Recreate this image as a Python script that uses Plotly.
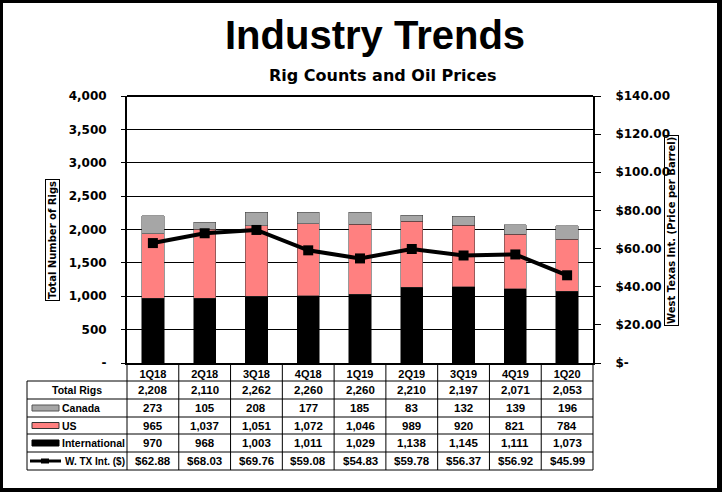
import plotly.graph_objects as go

# Datos (trimestres)
quarters = ["1Q18", "2Q18", "3Q18", "4Q18", "1Q19", "2Q19", "3Q19", "4Q19", "1Q20"]
canada = [273, 105, 208, 177, 185, 83, 132, 139, 196]
us = [965, 1037, 1051, 1072, 1046, 989, 920, 821, 784]
international = [970, 968, 1003, 1011, 1029, 1138, 1145, 1111, 1073]
total_rigs = [2208, 2110, 2262, 2260, 2260, 2210, 2197, 2071, 2053]
wti = [62.88, 68.03, 69.76, 59.08, 54.83, 59.78, 56.37, 56.92, 45.99]

rig_ticks = [0, 500, 1000, 1500, 2000, 2500, 3000, 3500, 4000]
rig_labels = ["-", "500", "1,000", "1,500", "2,000", "2,500", "3,000", "3,500", "4,000"]
price_ticks = [0, 20, 40, 60, 80, 100, 120, 140]
price_labels = ["$-", "$20.00", "$40.00", "$60.00", "$80.00", "$100.00", "$120.00", "$140.00"]

# Colores
C_CAN = "#A6A6A6"
C_US = "#FF8080"
C_INT = "#000000"

NARROW = "Liberation Sans Narrow, Arial Narrow, Liberation Sans, sans-serif"
VERD = "DejaVu Sans, Verdana, sans-serif"

# Geometria en pixeles
W, H = 722, 492
L, R, T, B = 127, 593, 96, 363
pw, ph = R - L, B - T


def px(x):
    return (x - L) / pw


def py(y):
    return (B - y) / ph


fig = go.Figure()

fig.add_trace(go.Bar(x=quarters, y=international, marker=dict(color=C_INT, line=dict(color="#000", width=0.5)),
                     width=0.43, name="International"))
fig.add_trace(go.Bar(x=quarters, y=us, marker=dict(color=C_US, line=dict(color="#333", width=0.5)),
                     width=0.43, name="US"))
fig.add_trace(go.Bar(x=quarters, y=canada, marker=dict(color=C_CAN, line=dict(color="#333", width=0.5)),
                     width=0.43, name="Canada"))
fig.add_trace(go.Scatter(x=quarters, y=wti, yaxis="y2", mode="lines+markers",
                         line=dict(color="#000", width=4),
                         marker=dict(symbol="square", size=10, color="#000"),
                         name="W. TX Int. ($)"))

shapes = []
annotations = []

# Marco exterior
for x0, y0, x1, y1 in [(0, 0, 3, H), (0, 0, W, 3), (717, 0, W, H), (0, 488, W, H)]:
    shapes.append(dict(type="rect", xref="paper", yref="paper",
                       x0=px(x0), x1=px(x1), y0=py(y1), y1=py(y0),
                       fillcolor="#000", line=dict(width=0)))

# Tabla
n = len(quarters)
row_edges = [381, 399, 417, 434, 452, 470]
tab_left = 27
for y in row_edges:
    shapes.append(dict(type="line", xref="paper", yref="paper", x0=px(tab_left), x1=1,
                       y0=py(y), y1=py(y), line=dict(color="#000", width=1)))
shapes.append(dict(type="line", xref="paper", yref="paper", x0=px(tab_left), x1=px(tab_left),
                   y0=py(row_edges[0]), y1=py(row_edges[-1]), line=dict(color="#000", width=1)))
for k in range(n + 1):
    xk = k / n
    shapes.append(dict(type="line", xref="paper", yref="paper", x0=xk, x1=xk,
                       y0=0, y1=py(row_edges[-1]), line=dict(color="#000", width=1)))

row_names = ["Total Rigs", "Canada", "US", "International", "W. TX Int. ($)"]
row_vals = [
    [f"{v:,}" for v in total_rigs],
    [f"{v:,}" for v in canada],
    [f"{v:,}" for v in us],
    [f"{v:,}" for v in international],
    [f"${v:.2f}" for v in wti],
]
cell_font = dict(family=NARROW, size=11.5, color="#000", weight="bold")
label_font = dict(family=NARROW, size=10.5, color="#000", weight="bold")

for r, (name, vals) in enumerate(zip(row_names, row_vals)):
    yc = (row_edges[r] + row_edges[r + 1]) / 2
    for i, v in enumerate(vals):
        annotations.append(dict(x=(i + 0.5) / n, y=py(yc), xref="paper", yref="paper", text=v,
                                showarrow=False, font=cell_font, xanchor="center", yanchor="middle"))
    if r == 0:
        annotations.append(dict(x=px(77), y=py(yc), xref="paper", yref="paper", text=name,
                                showarrow=False, font=label_font, xanchor="center", yanchor="middle"))
    elif r < 4:
        key_col = [C_CAN, C_US, C_INT][r - 1]
        key_line = ["#555", "#333", "#000"][r - 1]
        shapes.append(dict(type="rect", xref="paper", yref="paper", x0=px(32), x1=px(59),
                           y0=py(yc + 3), y1=py(yc - 3), fillcolor=key_col,
                           line=dict(color=key_line, width=1)))
        annotations.append(dict(x=px(60), y=py(yc), xref="paper", yref="paper", text=name,
                                showarrow=False, font=label_font, xanchor="left", yanchor="middle"))
    else:
        shapes.append(dict(type="line", xref="paper", yref="paper", x0=px(30), x1=px(61),
                           y0=py(yc), y1=py(yc), line=dict(color="#000", width=3)))
        shapes.append(dict(type="rect", xref="paper", yref="paper", x0=px(41), x1=px(49),
                           y0=py(yc + 2.5), y1=py(yc - 2.5), fillcolor="#000", line=dict(width=0)))
        annotations.append(dict(x=px(63), y=py(yc), xref="paper", yref="paper", text=name,
                                showarrow=False, font=dict(label_font, size=10),
                                xanchor="left", yanchor="middle"))

# Titulos
annotations.append(dict(x=px(375), y=py(35), xref="paper", yref="paper", text="Industry Trends",
                        showarrow=False, xanchor="center", yanchor="middle",
                        font=dict(family="Impact, " + NARROW, size=40, color="#000", weight="bold")))
annotations.append(dict(x=px(382), y=py(75), xref="paper", yref="paper", text="Rig Counts and Oil Prices",
                        showarrow=False, xanchor="center", yanchor="middle",
                        font=dict(family=VERD, size=16, color="#000", weight="bold")))
annotations.append(dict(x=px(52), y=py(240), xref="paper", yref="paper", text="Total Number of Rigs",
                        showarrow=False, textangle=-90, xanchor="center", yanchor="middle",
                        bordercolor="#000", borderwidth=1, borderpad=1,
                        font=dict(family=VERD, size=10, color="#000", weight="bold")))
annotations.append(dict(x=px(671), y=py(231), xref="paper", yref="paper",
                        text="West Texas Int. (Price per Barrel)",
                        showarrow=False, textangle=-90, xanchor="center", yanchor="middle",
                        bordercolor="#000", borderwidth=1, borderpad=1,
                        font=dict(family=VERD, size=10, color="#000", weight="bold")))

tick_font = dict(family=VERD, size=12, color="#000", weight="bold")

fig.update_layout(
    width=W, height=H,
    margin=dict(l=L, r=W - R, t=T, b=H - B, pad=0),
    paper_bgcolor="#fff", plot_bgcolor="#fff",
    barmode="stack", bargap=0.57, showlegend=False,
    xaxis=dict(showline=True, linecolor="#000", linewidth=2, mirror=False,
               ticks="", showgrid=False, tickfont=dict(family=NARROW, size=11, color="#000", weight="bold"),
               ticklabelstandoff=0, range=[-0.5, n - 0.5]),
    yaxis=dict(range=[0, 4000], tickvals=rig_ticks, ticktext=rig_labels,
               showline=True, linecolor="#000", linewidth=2, ticks="outside", ticklen=4,
               tickcolor="#000", showgrid=True, gridcolor="#000", gridwidth=1,
               tickfont=tick_font, ticklabelstandoff=12, zeroline=False),
    yaxis2=dict(range=[0, 140], tickvals=price_ticks, ticktext=price_labels, overlaying="y",
                side="right", showline=True, linecolor="#000", linewidth=2, ticks="outside",
                ticklen=6, tickcolor="#000", showgrid=False, zeroline=False,
                tickfont=tick_font, ticklabelstandoff=12),
    shapes=shapes + [dict(type="line", xref="paper", yref="paper", x0=0, x1=1, y0=1, y1=1,
                          line=dict(color="#000", width=2))],
    annotations=annotations,
)

fig.write_html("out.html", config={"displayModeBar": False},
               post_script="document.body.style.margin='0';")
